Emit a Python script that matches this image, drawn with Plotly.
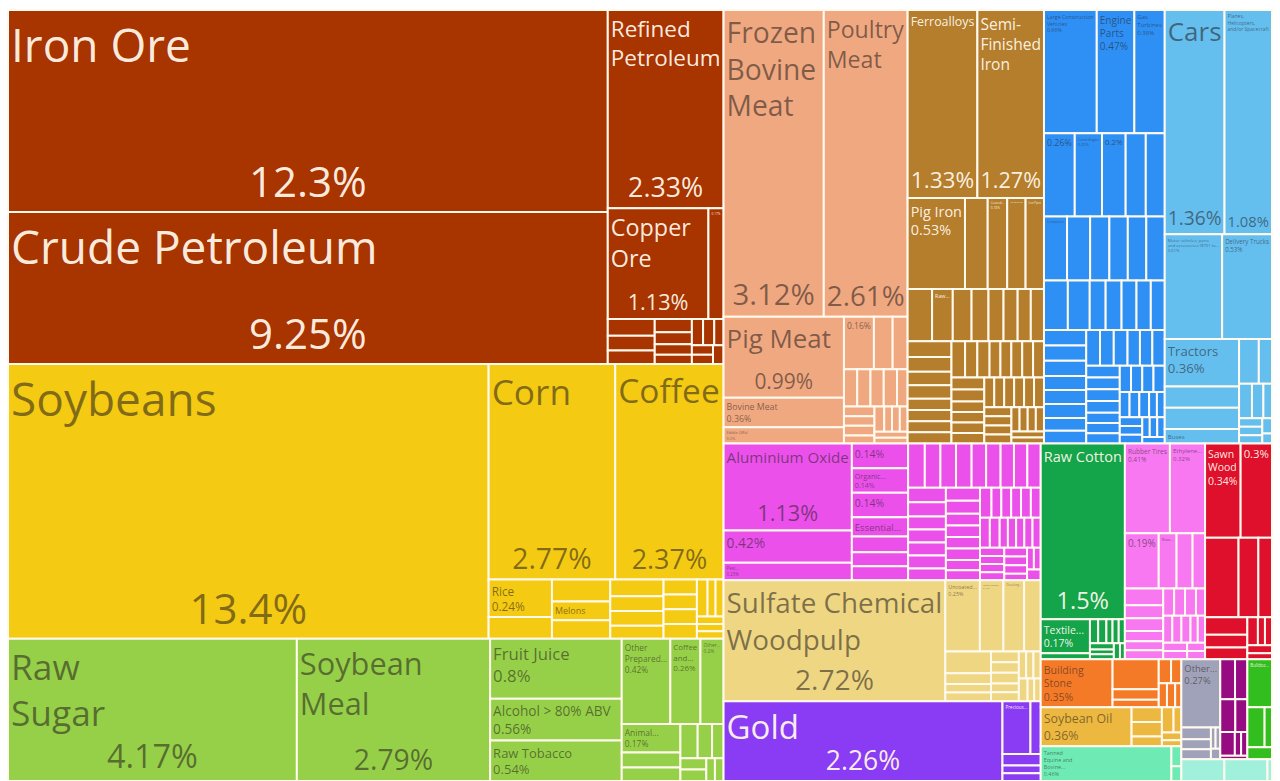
import math
import plotly.graph_objects as go

# ---------------- data (shares of total exports, %) ----------------
SECTORS = ["Mineral Products", "Vegetable Products", "Foodstuffs", "Animal Products",
           "Metals", "Machines", "Transportation", "Chemical Products", "Paper Goods",
           "Precious Metals", "Textiles", "Plastics and Rubbers", "Wood Products",
           "Stone And Glass", "Animal and Vegetable Bi-Products", "Instruments",
           "Animal Hides", "Footwear and Headwear", "Miscellaneous", "Arts and Antiques"]
SECTOR_COLORS = ["#A83400", "#F4CA12", "#96D048", "#F0A880", "#B47E2D", "#2E90F5",
                 "#64BEEE", "#EB50EB", "#EED682", "#8A3CF5", "#14A54B", "#F778F0",
                 "#DE102C", "#F57A28", "#ECB840", "#A0A2B9", "#6EEBB4", "#960A82",
                 "#32BE1E", "#A0F0DC"]
LIGHT_TEXT = {"Mineral Products", "Metals", "Precious Metals", "Textiles",
              "Wood Products", "Footwear and Headwear", "Miscellaneous"}

MINERAL_PRODUCTS = ["Iron Ore", "Crude Petroleum", "Refined Petroleum", "Copper Ore", "Other Ores"]
MINERAL_SHARES = [12.3, 9.25, 2.33, 1.13, 0.17]
MINERAL_MINOR = [0.08, 0.07, 0.065, 0.05, 0.045, 0.04, 0.035, 0.03, 0.03, 0.025, 0.02, 0.02, 0.02]

VEGETABLE_PRODUCTS = ["Soybeans", "Corn", "Coffee", "Rice", "Melons"]
VEGETABLE_SHARES = [13.4, 2.77, 2.37, 0.24, 0.11]
VEGETABLE_MINOR = [0.14, 0.13, 0.11, 0.09, 0.08, 0.08, 0.07, 0.05, 0.05, 0.05, 0.05,
                   0.04, 0.03, 0.03, 0.02, 0.02, 0.02]

FOOD_PRODUCTS = ["Raw Sugar", "Soybean Meal", "Fruit Juice", "Alcohol > 80% ABV", "Raw Tobacco",
                 "Other Prepared Meat", "Coffee and Tea Extracts", "Other Edible Preparations",
                 "Animal Food"]
FOOD_SHARES = [4.17, 2.79, 0.8, 0.56, 0.54, 0.42, 0.26, 0.2, 0.17]
FOOD_MINOR = [0.09, 0.08, 0.06, 0.05, 0.04, 0.03, 0.03, 0.02, 0.02]

ANIMAL_PRODUCTS = ["Frozen Bovine Meat", "Poultry Meat", "Pig Meat", "Bovine Meat",
                   "Edible Offal", "Other Meat"]
ANIMAL_SHARES = [3.12, 2.61, 0.99, 0.36, 0.2, 0.16]
ANIMAL_MINOR = [0.1, 0.08, 0.05, 0.05, 0.05, 0.05, 0.04, 0.03, 0.03, 0.03, 0.025, 0.025,
                0.02, 0.02, 0.02, 0.02, 0.02]

METAL_PRODUCTS = ["Ferroalloys", "Semi-Finished Iron", "Pig Iron", "Coated Flat-Rolled Iron",
                  "Hot-Rolled Iron", "Iron Pipes", "Raw Aluminium"]
METAL_SHARES = [1.33, 1.27, 0.53, 0.18, 0.17, 0.17, 0.11]
METAL_MINOR = [0.21, 0.13, 0.1, 0.09, 0.08, 0.075, 0.07, 0.07, 0.07, 0.065, 0.06, 0.06,
               0.05, 0.05, 0.05, 0.05, 0.05, 0.045, 0.045, 0.04, 0.04, 0.04, 0.04, 0.04,
               0.04, 0.04, 0.035, 0.035, 0.035, 0.035, 0.03, 0.03, 0.03, 0.03, 0.03, 0.03,
               0.025, 0.025, 0.025, 0.025, 0.02, 0.02, 0.02, 0.02, 0.02, 0.02]

MACHINE_PRODUCTS = ["Large Construction Vehicles", "Engine Parts", "Gas Turbines",
                    "Other Engines", "Centrifuges", "Other Machine Parts", "Computers"]
MACHINE_SHARES = [0.66, 0.47, 0.38, 0.26, 0.23, 0.2, 0.15]
MACHINE_MINOR = [0.17, 0.16, 0.15, 0.125, 0.12, 0.12, 0.12, 0.12, 0.11, 0.08, 0.08, 0.075,
                 0.072, 0.07, 0.066, 0.066, 0.065, 0.06, 0.06, 0.06, 0.055, 0.055, 0.05,
                 0.05, 0.05, 0.045, 0.045, 0.045, 0.04, 0.04, 0.04, 0.04, 0.035, 0.035,
                 0.035, 0.03, 0.03, 0.03, 0.03, 0.025, 0.025, 0.025, 0.02, 0.02, 0.02,
                 0.02, 0.02, 0.015, 0.015, 0.015, 0.015]

TRANSPORT_PRODUCTS = ["Cars", "Planes, Helicopters, and/or Spacecraft",
                      "Motor vehicles; parts and accessories (8701 to 8705)",
                      "Delivery Trucks", "Tractors", "Buses"]
TRANSPORT_SHARES = [1.36, 1.08, 0.61, 0.53, 0.36, 0.11]
TRANSPORT_MINOR = [0.16, 0.16, 0.09, 0.06, 0.045, 0.04, 0.03, 0.02, 0.02, 0.02, 0.015, 0.01]

CHEMICAL_PRODUCTS = ["Aluminium Oxide", "Packaged Medicaments", "Pesticides",
                     "Other Chemicals", "Organic Compounds", "Other Compounds", "Essential Oils"]
CHEMICAL_SHARES = [1.13, 0.42, 0.23, 0.14, 0.14, 0.14, 0.11]
CHEMICAL_MINOR = [0.09, 0.08, 0.08, 0.075, 0.07, 0.07, 0.07, 0.065, 0.065, 0.06, 0.06, 0.06,
                  0.055, 0.055, 0.05, 0.05, 0.05, 0.05, 0.045, 0.045, 0.045, 0.04, 0.04,
                  0.04, 0.04, 0.035, 0.035, 0.035, 0.03, 0.03, 0.03, 0.03, 0.03, 0.03,
                  0.03, 0.025, 0.025, 0.025, 0.025, 0.025, 0.02, 0.02, 0.02, 0.02, 0.02,
                  0.02, 0.02, 0.015, 0.015, 0.015, 0.015]

PAPER_PRODUCTS = ["Sulfate Chemical Woodpulp", "Uncoated Paper", "Kaolin Coated Paper",
                  "Dissolving Grades Chemical Woodpulp"]
PAPER_SHARES = [2.72, 0.25, 0.17, 0.15]
PAPER_MINOR = [0.12, 0.1, 0.05, 0.04, 0.04, 0.03, 0.03, 0.03, 0.025, 0.025, 0.02, 0.02,
               0.02, 0.02, 0.015, 0.015]

PRECIOUS_PRODUCTS = ["Gold", "Precious Metal Scraps"]
PRECIOUS_SHARES = [2.26, 0.15]
PRECIOUS_MINOR = [0.055, 0.045, 0.03, 0.03]

TEXTILE_PRODUCTS = ["Raw Cotton", "Textile Fibers"]
TEXTILE_SHARES = [1.5, 0.17]
TEXTILE_MINOR = [0.03, 0.02, 0.02, 0.015, 0.015, 0.015, 0.015, 0.012, 0.012, 0.01, 0.008]

PLASTIC_PRODUCTS = ["Rubber Tires", "Ethylene Polymers", "Synthetic Rubber", "Raw Plastic Sheeting"]
PLASTIC_SHARES = [0.41, 0.32, 0.19, 0.1]
PLASTIC_MINOR = [0.09, 0.07, 0.065, 0.05, 0.05, 0.04, 0.035, 0.035, 0.03, 0.03, 0.03, 0.025,
                 0.025, 0.025, 0.025, 0.02, 0.02, 0.02, 0.02, 0.015, 0.015]

WOOD_PRODUCTS = ["Sawn Wood", "Wood Fiberboard"]
WOOD_SHARES = [0.34, 0.3]
WOOD_MINOR = [0.27, 0.16, 0.11, 0.075, 0.055, 0.05, 0.03, 0.02, 0.02, 0.02, 0.015]

STONE_PRODUCTS = ["Building Stone"]
STONE_SHARES = [0.35]
STONE_MINOR = [0.14, 0.05, 0.035, 0.03, 0.025, 0.02, 0.02, 0.015]

BYPRODUCT_PRODUCTS = ["Soybean Oil"]
BYPRODUCT_SHARES = [0.36]
BYPRODUCT_MINOR = [0.045, 0.045, 0.03, 0.03, 0.02, 0.015, 0.012]

INSTRUMENT_PRODUCTS = ["Other Instruments"]
INSTRUMENT_SHARES = [0.27]
INSTRUMENT_MINOR = [0.035, 0.03, 0.03, 0.01, 0.01, 0.01]

HIDE_PRODUCTS = ["Tanned Equine and Bovine Hides"]
HIDE_SHARES = [0.46]
HIDE_MINOR = [0.02, 0.015]

FOOTWEAR_PRODUCTS = []
FOOTWEAR_SHARES = []
FOOTWEAR_MINOR = [0.06, 0.05, 0.05, 0.04, 0.035, 0.015, 0.015, 0.01]

MISC_PRODUCTS = ["Bulldozer Parts"]
MISC_SHARES = [0.12]
MISC_MINOR = [0.07, 0.03, 0.03]

ARTS_PRODUCTS = []
ARTS_SHARES = []
ARTS_MINOR = [0.095, 0.095, 0.01]

# name text shown in a cell ("" = percentage only); NAME_ONLY = no percentage shown
DISPLAY = {
    "Refined Petroleum": "Refined<br>Petroleum", "Copper Ore": "Copper<br>Ore", "Other Ores": "",
    "Raw Sugar": "Raw<br>Sugar", "Soybean Meal": "Soybean<br>Meal",
    "Other Prepared Meat": "Other<br>Prepared...", "Coffee and Tea Extracts": "Coffee<br>and...",
    "Other Edible Preparations": "Other...", "Animal Food": "Animal...",
    "Frozen Bovine Meat": "Frozen<br>Bovine<br>Meat", "Poultry Meat": "Poultry<br>Meat",
    "Other Meat": "", "Semi-Finished Iron": "Semi-<br>Finished<br>Iron",
    "Coated Flat-Rolled Iron": "Coated...", "Raw Aluminium": "Raw...",
    "Large Construction Vehicles": "Large Construction<br>Vehicles", "Engine Parts": "Engine<br>Parts",
    "Gas Turbines": "Gas<br>Turbines", "Other Engines": "", "Other Machine Parts": "",
    "Planes, Helicopters, and/or Spacecraft": "Planes,<br>Helicopters,<br>and/or Spacecraft",
    "Motor vehicles; parts and accessories (8701 to 8705)": "Motor vehicles; parts<br>and accessories (8701 to...",
    "Packaged Medicaments": "", "Pesticides": "Pest...", "Other Chemicals": "",
    "Organic Compounds": "Organic...", "Other Compounds": "", "Essential Oils": "Essential...",
    "Sulfate Chemical Woodpulp": "Sulfate Chemical<br>Woodpulp", "Uncoated Paper": "Uncoated...",
    "Kaolin Coated Paper": "Kaolin Coated...", "Dissolving Grades Chemical Woodpulp": "Dissolving...",
    "Precious Metal Scraps": "Precious...", "Textile Fibers": "Textile...",
    "Ethylene Polymers": "Ethylene...", "Synthetic Rubber": "", "Raw Plastic Sheeting": "Raw...",
    "Sawn Wood": "Sawn<br>Wood", "Wood Fiberboard": "", "Building Stone": "Building<br>Stone",
    "Other Instruments": "Other...", "Tanned Equine and Bovine Hides": "Tanned<br>Equine and<br>Bovine...",
    "Bulldozer Parts": "Bulldoz...",
}
NAME_ONLY = {"Melons", "Hot-Rolled Iron", "Iron Pipes", "Raw Aluminium", "Computers", "Buses",
             "Essential Oils", "Dissolving Grades Chemical Woodpulp", "Precious Metal Scraps",
             "Raw Plastic Sheeting", "Bulldozer Parts"}
SPLIT_MIN = 0.9   # from this share up, the name sits top-left and the share bottom-centre

SECTOR_DATA = [
    (MINERAL_PRODUCTS, MINERAL_SHARES, MINERAL_MINOR),
    (VEGETABLE_PRODUCTS, VEGETABLE_SHARES, VEGETABLE_MINOR),
    (FOOD_PRODUCTS, FOOD_SHARES, FOOD_MINOR),
    (ANIMAL_PRODUCTS, ANIMAL_SHARES, ANIMAL_MINOR),
    (METAL_PRODUCTS, METAL_SHARES, METAL_MINOR),
    (MACHINE_PRODUCTS, MACHINE_SHARES, MACHINE_MINOR),
    (TRANSPORT_PRODUCTS, TRANSPORT_SHARES, TRANSPORT_MINOR),
    (CHEMICAL_PRODUCTS, CHEMICAL_SHARES, CHEMICAL_MINOR),
    (PAPER_PRODUCTS, PAPER_SHARES, PAPER_MINOR),
    (PRECIOUS_PRODUCTS, PRECIOUS_SHARES, PRECIOUS_MINOR),
    (TEXTILE_PRODUCTS, TEXTILE_SHARES, TEXTILE_MINOR),
    (PLASTIC_PRODUCTS, PLASTIC_SHARES, PLASTIC_MINOR),
    (WOOD_PRODUCTS, WOOD_SHARES, WOOD_MINOR),
    (STONE_PRODUCTS, STONE_SHARES, STONE_MINOR),
    (BYPRODUCT_PRODUCTS, BYPRODUCT_SHARES, BYPRODUCT_MINOR),
    (INSTRUMENT_PRODUCTS, INSTRUMENT_SHARES, INSTRUMENT_MINOR),
    (HIDE_PRODUCTS, HIDE_SHARES, HIDE_MINOR),
    (FOOTWEAR_PRODUCTS, FOOTWEAR_SHARES, FOOTWEAR_MINOR),
    (MISC_PRODUCTS, MISC_SHARES, MISC_MINOR),
    (ARTS_PRODUCTS, ARTS_SHARES, ARTS_MINOR),
]

# ---------------- build hierarchy ----------------
ids, labels, parents, values, colors = [], [], [], [], []
name_txt, name_size, pct_txt, pct_size, tcolors = [], [], [], [], []
LIGHT = "rgba(255,247,235,0.96)"
DARK = "rgba(40,32,30,0.56)"


def pct(v):
    return f"{v:g}%"


for sector, color, (names, shares, minor) in zip(SECTORS, SECTOR_COLORS, SECTOR_DATA):
    tc = LIGHT if sector in LIGHT_TEXT else DARK
    ids.append(sector); labels.append(sector); parents.append(""); values.append(0)
    colors.append(color); tcolors.append(tc)
    name_txt.append(""); name_size.append(10); pct_txt.append(""); pct_size.append(10)
    for name, v in zip(names, shares):
        ids.append(f"{sector}/{name}"); labels.append(name); parents.append(sector)
        values.append(v); colors.append(color); tcolors.append(tc)
        disp = DISPLAY.get(name, name)
        share = "" if name in NAME_ONLY else pct(v)
        if v >= SPLIT_MIN:
            nlines = disp.count("<br>") + 1
            name_txt.append(disp)
            name_size.append(min(46, (12 + 14 * math.sqrt(v)) / (1 + 0.15 * (nlines - 1))))
            pct_txt.append(share)
            pct_size.append(min(42, 10 + 11 * math.sqrt(v)))
        else:
            name_txt.append("<br>".join(t for t in (disp, share) if t))
            name_size.append(6 + 12 * math.sqrt(v))
            pct_txt.append(""); pct_size.append(8)
    for k, v in enumerate(minor):
        ids.append(f"{sector}/other-{k}"); labels.append(f"Other {sector.lower()}")
        parents.append(sector); values.append(v); colors.append(color); tcolors.append(tc)
        name_txt.append(""); name_size.append(8); pct_txt.append(""); pct_size.append(8)

FONT = "Open Sans, Noto Sans, sans-serif"
common = dict(ids=ids, labels=labels, parents=parents, values=values,
              branchvalues="remainder", sort=True,
              tiling=dict(packing="squarify", squarifyratio=3, pad=0),
              pathbar=dict(visible=False), domain=dict(x=[0, 1], y=[0, 1]))

# fills + product names (top left)
fig = go.Figure(go.Treemap(
    **common,
    text=name_txt, texttemplate="%{text}", textposition="top left",
    textfont=dict(family=FONT, size=name_size, color=tcolors),
    marker=dict(colors=colors, line=dict(color="#FFF9EE", width=2),
                pad=dict(t=0, l=0, r=0, b=0), depthfade=False),
    hovertemplate="%{label}<br>%{value}%<extra></extra>",
    root=dict(color="white"),
))
# same hierarchy, transparent, carrying the share labels (bottom centre)
fig.add_trace(go.Treemap(
    **common,
    text=pct_txt, texttemplate="%{text}", textposition="bottom center",
    textfont=dict(family=FONT, size=pct_size, color=tcolors),
    marker=dict(colors=["rgba(0,0,0,0)"] * len(ids), line=dict(width=0),
                pad=dict(t=0, l=0, r=0, b=0), depthfade=False),
    hoverinfo="skip",
    root=dict(color="rgba(0,0,0,0)"),
))
fig.update_layout(width=1280, height=781, margin=dict(l=8, r=8, t=10, b=0),
                  paper_bgcolor="white", plot_bgcolor="white")
fig.write_html("out.html")
